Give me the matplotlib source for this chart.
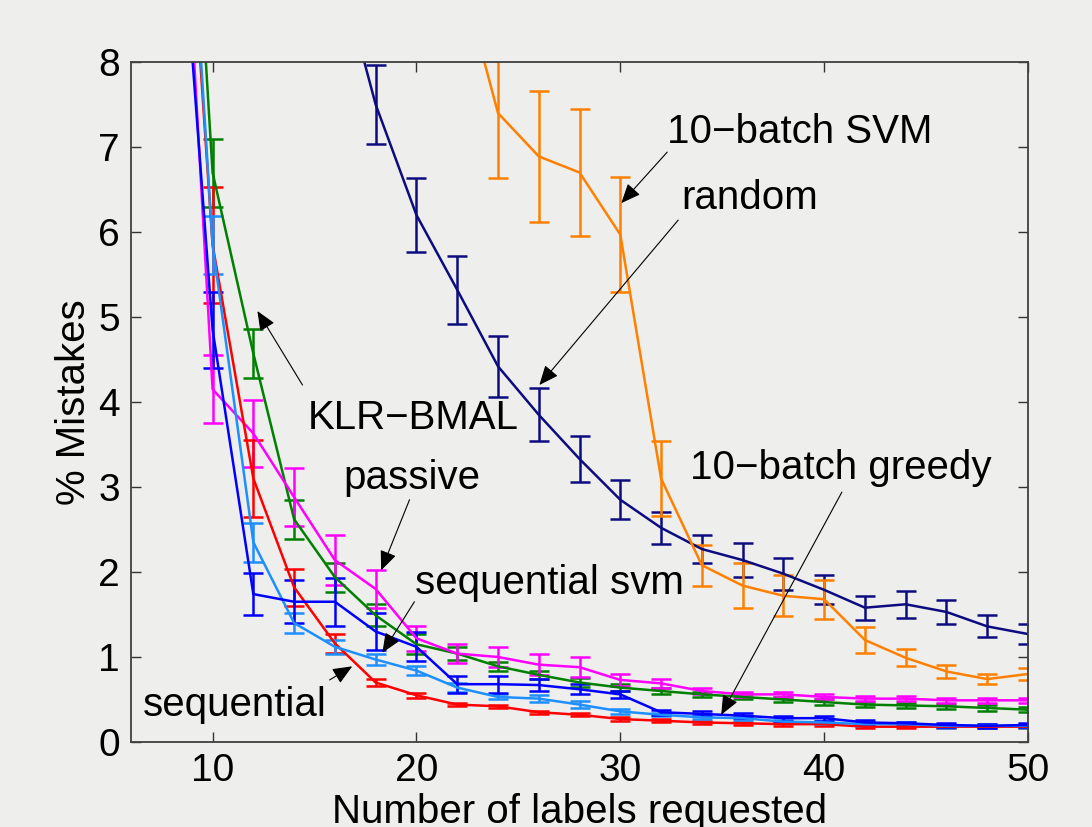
import matplotlib
matplotlib.use("Agg")
import matplotlib.pyplot as plt

plt.rcParams["font.family"] = ["Liberation Sans", "DejaVu Sans"]

# labels requested
x_main = [8, 10, 12, 14, 16, 18, 20, 22, 24, 26, 28, 30, 32, 34, 36, 38, 40, 42, 44, 46, 48, 50]
x_random = [14, 16, 18, 20, 22, 24, 26, 28, 30, 32, 34, 36, 38, 40, 42, 44, 46, 48, 50]
x_svm10 = [20, 22, 24, 26, 28, 30, 32, 34, 36, 38, 40, 42, 44, 46, 48, 50]

klr_bmal = [14.6, 6.7, 4.57, 2.62, 1.94, 1.49, 1.15, 1.04, 0.89, 0.79, 0.70, 0.64,
            0.60, 0.56, 0.53, 0.50, 0.47, 0.44, 0.43, 0.42, 0.40, 0.38]
klr_bmal_err = [0.5, 0.4, 0.29, 0.23, 0.17, 0.13, 0.12, 0.08, 0.05, 0.05, 0.05, 0.04,
                0.03, 0.03, 0.03, 0.03, 0.03, 0.03, 0.03, 0.03, 0.03, 0.03]

passive = [12.7, 4.15, 3.63, 2.88, 2.14, 1.80, 1.22, 1.04, 1.00, 0.91, 0.88, 0.73,
           0.69, 0.60, 0.56, 0.56, 0.53, 0.51, 0.51, 0.49, 0.49, 0.49]
passive_err = [0.5, 0.4, 0.39, 0.34, 0.29, 0.22, 0.15, 0.11, 0.12, 0.12, 0.12, 0.07,
               0.05, 0.03, 0.03, 0.03, 0.03, 0.03, 0.03, 0.03, 0.03, 0.03]

sequential = [13.0, 5.85, 3.1, 1.82, 1.16, 0.70, 0.55, 0.44, 0.42, 0.35, 0.32, 0.27,
              0.25, 0.23, 0.22, 0.21, 0.21, 0.18, 0.18, 0.18, 0.18, 0.18]
sequential_err = [0.6, 0.68, 0.45, 0.22, 0.11, 0.04, 0.03, 0.02, 0.02, 0.02, 0.02, 0.02,
                  0.02, 0.02, 0.02, 0.02, 0.02, 0.02, 0.02, 0.02, 0.02, 0.02]

greedy10 = [13.5, 5.85, 2.35, 1.40, 1.12, 0.97, 0.84, 0.64, 0.53, 0.51, 0.44, 0.36,
            0.32, 0.29, 0.28, 0.24, 0.23, 0.21, 0.21, 0.19, 0.19, 0.19]
greedy10_err = [0.5, 0.34, 0.23, 0.12, 0.08, 0.06, 0.05, 0.05, 0.03, 0.04, 0.04, 0.03,
                0.02, 0.02, 0.02, 0.02, 0.02, 0.02, 0.02, 0.02, 0.02, 0.02]

seq_svm = [11.3, 4.85, 1.74, 1.65, 1.65, 1.30, 1.12, 0.68, 0.68, 0.67, 0.62, 0.56,
           0.35, 0.33, 0.31, 0.28, 0.28, 0.23, 0.22, 0.20, 0.19, 0.20]
seq_svm_err = [0.5, 0.45, 0.25, 0.25, 0.28, 0.22, 0.17, 0.1, 0.1, 0.07, 0.06, 0.04,
               0.03, 0.03, 0.03, 0.03, 0.03, 0.03, 0.02, 0.02, 0.02, 0.02]

random_sel = [11.0, 9.3, 7.5, 6.2, 5.32, 4.42, 3.85, 3.33, 2.85, 2.52, 2.27, 2.14,
              1.98, 1.79, 1.58, 1.62, 1.53, 1.36, 1.27]
random_err = [0.5, 0.5, 0.47, 0.44, 0.4, 0.36, 0.31, 0.27, 0.23, 0.19, 0.17, 0.2,
              0.19, 0.17, 0.14, 0.16, 0.14, 0.13, 0.12]

svm10 = [10.5, 9.2, 7.4, 6.89, 6.70, 5.97, 3.1, 2.08, 1.84, 1.72, 1.68, 1.2,
         0.99, 0.83, 0.74, 0.80]
svm10_err = [0.8, 0.8, 0.76, 0.77, 0.75, 0.68, 0.44, 0.24, 0.26, 0.24, 0.23, 0.15,
             0.1, 0.08, 0.06, 0.07]

bg = "#eeeeec"
fig = plt.figure(figsize=(10.92, 8.27), dpi=100, facecolor=bg)
ax = fig.add_axes([0.12, 0.1028, 0.8214, 0.8222], facecolor=bg)

series = [
    (x_main, klr_bmal, klr_bmal_err, "#008000"),
    (x_main, passive, passive_err, "#ff00ff"),
    (x_main, sequential, sequential_err, "#ff0000"),
    (x_main, greedy10, greedy10_err, "#1e8fff"),
    (x_main, seq_svm, seq_svm_err, "#0000ff"),
    (x_random, random_sel, random_err, "#0c0c80"),
    (x_svm10, svm10, svm10_err, "#ff8000"),
]
for xs, ys, es, col in series:
    ax.errorbar(xs, ys, yerr=es, color=col, lw=1.8, elinewidth=1.8,
                capsize=7, capthick=1.8)

ax.set_xlim(6, 50)
ax.set_ylim(0, 8)
ax.set_xticks([10, 20, 30, 40, 50])
ax.set_yticks(range(0, 9))
ax.tick_params(direction="in", length=7, width=1, top=True, right=True,
               labelsize=28, pad=8, colors="#333333", labelcolor="black")
for s in ax.spines.values():
    s.set_color("#404040")
    s.set_linewidth(1.3)

ax.set_xlabel("Number of labels requested", fontsize=29, labelpad=3)
ax.set_ylabel("% Mistakes", fontsize=29, labelpad=4)

arrow = dict(arrowstyle="-|>,head_length=0.75,head_width=0.32", color="black",
             lw=0.8, shrinkA=0, shrinkB=0, mutation_scale=16)
notes = [
    ("10\u2212batch SVM", (32.3, 7.18), (32.3, 6.94), (30.05, 6.34)),
    ("random", (33.0, 6.4), (32.84, 6.14), (26.03, 4.2)),
    ("KLR\u2212BMAL", (14.66, 3.81), (14.41, 4.2), (12.2, 5.07)),
    ("passive", (16.42, 3.11), (19.66, 2.85), (18.27, 2.02)),
    ("sequential svm", (19.95, 1.87), (19.9, 1.65), (18.33, 1.05)),
    ("sequential", (6.6, 0.44), (15.74, 0.73), (16.85, 0.89)),
    ("10\u2212batch greedy", (33.43, 3.22), (40.87, 2.94), (34.95, 0.32)),
]
for label, txt_pos, tail, head in notes:
    ax.annotate("", xy=head, xytext=tail, arrowprops=arrow)
    ax.text(txt_pos[0], txt_pos[1], label, fontsize=29, ha="left", va="center")

fig.savefig("out.png", dpi=100, facecolor=bg)
